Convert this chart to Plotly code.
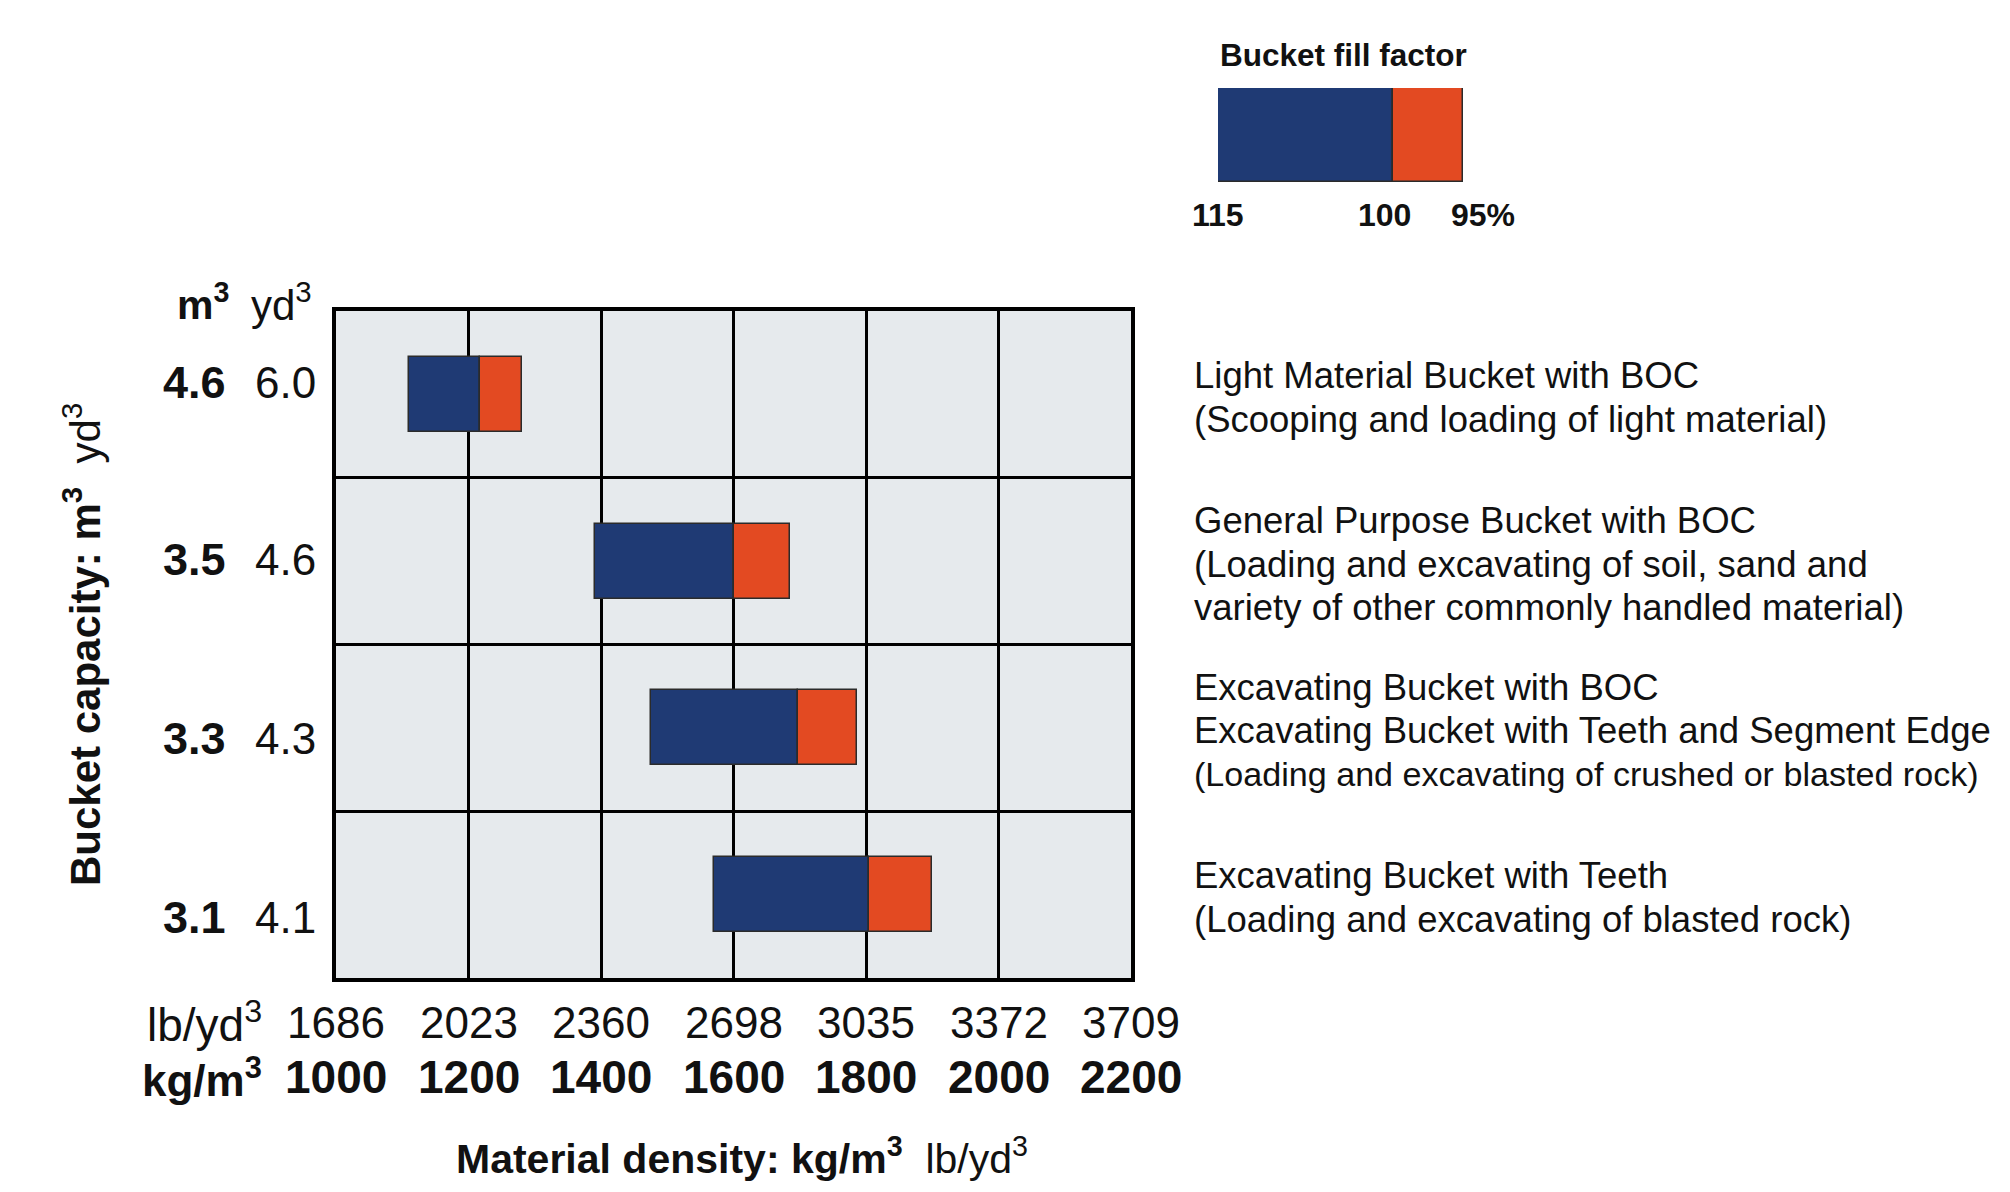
import plotly.graph_objects as go

# ---------------- data ----------------
capacity_m3 = ["4.6", "3.5", "3.3", "3.1"]
capacity_yd3 = ["6.0", "4.6", "4.3", "4.1"]
density_fill115 = [1110, 1391, 1476, 1570]   # kg/m3 at 115 % fill
density_fill100 = [1217, 1600, 1697, 1805]   # kg/m3 at 100 % fill
density_fill95 = [1281, 1685, 1786, 1900]    # kg/m3 at 95 % fill
density_ticks_kg = [1000, 1200, 1400, 1600, 1800, 2000, 2200]
density_ticks_lb = [1686, 2023, 2360, 2698, 3035, 3372, 3709]
fill_factors = [115, 100, 95]
fill_labels = ["115", "100", "95%"]
bucket_types = [
    ["Light Material Bucket with BOC",
     "(Scooping and loading of light material)"],
    ["General Purpose Bucket with BOC",
     "(Loading and excavating of soil, sand and",
     "variety of other commonly handled material)"],
    ["Excavating Bucket with BOC",
     "Excavating Bucket with Teeth and Segment Edge",
     "(Loading and excavating of crushed or blasted rock)"],
    ["Excavating Bucket with Teeth",
     "(Loading and excavating of blasted rock)"],
]

# ---------------- style ----------------
OFF = 8                      # page body margin
W, H = 2010 - 2 * OFF, 1192 - 2 * OFF
FONT = "Liberation Sans, Arial, sans-serif"
BLUE = "#1F3A74"
ORANGE = "#E34A22"
EDGE = "#2b2b2b"
BG = "#E6EAED"
INK = "#111111"
DESC_SIZE = 36.5
DESC_MAX_W = 800            # px available right of x=1192 before the page edge


def px(xp):
    return (xp - OFF) / W


def py(yp):
    return 1 - (yp - OFF) / H


rows = list(range(len(capacity_m3)))

fig = go.Figure()

# main bars
fig.add_trace(go.Bar(
    orientation="h", y=rows,
    base=density_fill115,
    x=[b - a for a, b in zip(density_fill115, density_fill100)],
    width=0.45, marker=dict(color=BLUE, line=dict(color=EDGE, width=1.5)),
    xaxis="x", yaxis="y", showlegend=False, hoverinfo="skip"))
fig.add_trace(go.Bar(
    orientation="h", y=rows,
    base=density_fill100,
    x=[b - a for a, b in zip(density_fill100, density_fill95)],
    width=0.45, marker=dict(color=ORANGE, line=dict(color=EDGE, width=1.5)),
    xaxis="x", yaxis="y", showlegend=False, hoverinfo="skip"))

# legend key: fill factor drawn on an inverse (density) scale
inv = [100.0 / f for f in fill_factors]
fig.add_trace(go.Bar(
    orientation="h", y=[0], base=[inv[0]], x=[inv[1] - inv[0]], width=1,
    marker=dict(color=BLUE, line=dict(color=EDGE, width=1.5)),
    xaxis="x2", yaxis="y2", showlegend=False, hoverinfo="skip"))
fig.add_trace(go.Bar(
    orientation="h", y=[0], base=[inv[1]], x=[inv[2] - inv[1]], width=1,
    marker=dict(color=ORANGE, line=dict(color=EDGE, width=1.5)),
    xaxis="x2", yaxis="y2", showlegend=False, hoverinfo="skip"))

ann = []

# y labels (two columns)
label_y = [382, 559, 738, 917]
for m3, yd3, yy in zip(capacity_m3, capacity_yd3, label_y):
    ann.append(dict(text=f"<b>{m3}</b>", x=px(228), y=py(yy), xanchor="right",
                    yanchor="middle", font=dict(size=45)))
    ann.append(dict(text=yd3, x=px(318), y=py(yy), xanchor="right",
                    yanchor="middle", font=dict(size=44)))
ann.append(dict(text="<b>m<sup>3</sup></b>", x=px(231), y=py(302), xanchor="right",
                yanchor="middle", font=dict(size=41)))
ann.append(dict(text="yd<sup>3</sup>", x=px(314), y=py(302), xanchor="right",
                yanchor="middle", font=dict(size=42)))
ann.append(dict(text="<b>Bucket capacity: m<sup>3</sup></b>  yd<sup>3</sup>",
                x=px(82), y=py(645), textangle=-90, xanchor="center",
                yanchor="middle", font=dict(size=42)))

# x labels (two rows)
for kg, lb in zip(density_ticks_kg, density_ticks_lb):
    ann.append(dict(text=str(lb), x=kg, xref="x", y=py(1022), yref="paper",
                    xanchor="center", yanchor="middle", font=dict(size=44)))
    ann.append(dict(text=f"<b>{kg}</b>", x=kg, xref="x", y=py(1077), yref="paper",
                    xanchor="center", yanchor="middle", font=dict(size=46)))
ann.append(dict(text="lb/yd<sup>3</sup>", x=px(264), y=py(1022), xanchor="right",
                yanchor="middle", font=dict(size=46)))
ann.append(dict(text="<b>kg/m<sup>3</sup></b>", x=px(264), y=py(1077), xanchor="right",
                yanchor="middle", font=dict(size=44)))
ann.append(dict(text="<b>Material density: kg/m<sup>3</sup></b>  lb/yd<sup>3</sup>",
                x=px(742), y=py(1156), xanchor="center", yanchor="middle",
                font=dict(size=41)))

# bucket descriptions (very long lines are set a little smaller to stay on the page)
LINE = 43.5
for r, lines in zip(rows, bucket_types):
    n = len(lines)
    for i, t in enumerate(lines):
        size = DESC_SIZE
        est_w = len(t) * 0.46 * size
        if est_w > DESC_MAX_W:
            size = DESC_SIZE * DESC_MAX_W / est_w
        ann.append(dict(text=t, x=px(1192), xref="paper", y=r, yref="y",
                        xanchor="left", yanchor="middle",
                        yshift=-(i - (n - 1) / 2) * LINE - 3,
                        font=dict(size=size)))

# legend title and labels
ann.append(dict(text="<b>Bucket fill factor</b>", x=px(1218), y=py(55),
                xanchor="left", yanchor="middle", font=dict(size=31.5)))
shifts = [0, -8, 20]
for v, lab, s in zip(inv, fill_labels, shifts):
    ann.append(dict(text=f"<b>{lab}</b>", x=v, xref="x2", y=py(215), yref="paper",
                    xanchor="center", yanchor="middle", xshift=s,
                    font=dict(size=32)))

for a in ann:
    a.setdefault("xref", "paper")
    a.setdefault("yref", "paper")
    a["showarrow"] = False
    a["font"] = dict(family=FONT, color=INK, **a["font"])

fig.update_layout(
    width=W, height=H,
    margin=dict(l=0, r=0, t=0, b=0),
    paper_bgcolor="white", plot_bgcolor=BG,
    barmode="overlay", bargap=0,
    font=dict(family=FONT, color=INK),
    annotations=ann,
    xaxis=dict(domain=[px(336), px(1131)], range=[1000, 2200],
               tickvals=density_ticks_kg, showticklabels=False, ticks="",
               showgrid=True, gridcolor="black", gridwidth=3, zeroline=False,
               showline=True, linecolor="black", linewidth=3.5, mirror=True,
               anchor="y"),
    yaxis=dict(domain=[py(978), py(311)], range=[rows[-1] + 0.5, rows[0] - 0.5],
               tickvals=[r + 0.5 for r in rows[:-1]],
               showticklabels=False, ticks="",
               showgrid=True, gridcolor="black", gridwidth=3, zeroline=False,
               showline=True, linecolor="black", linewidth=3.5, mirror=True,
               anchor="x"),
    xaxis2=dict(domain=[px(1218), px(1463)], range=[inv[0], inv[2]],
                visible=False, anchor="y2"),
    yaxis2=dict(domain=[py(182), py(88)], range=[-0.5, 0.5],
                visible=False, anchor="x2"),
)

fig.write_html("out.html")
